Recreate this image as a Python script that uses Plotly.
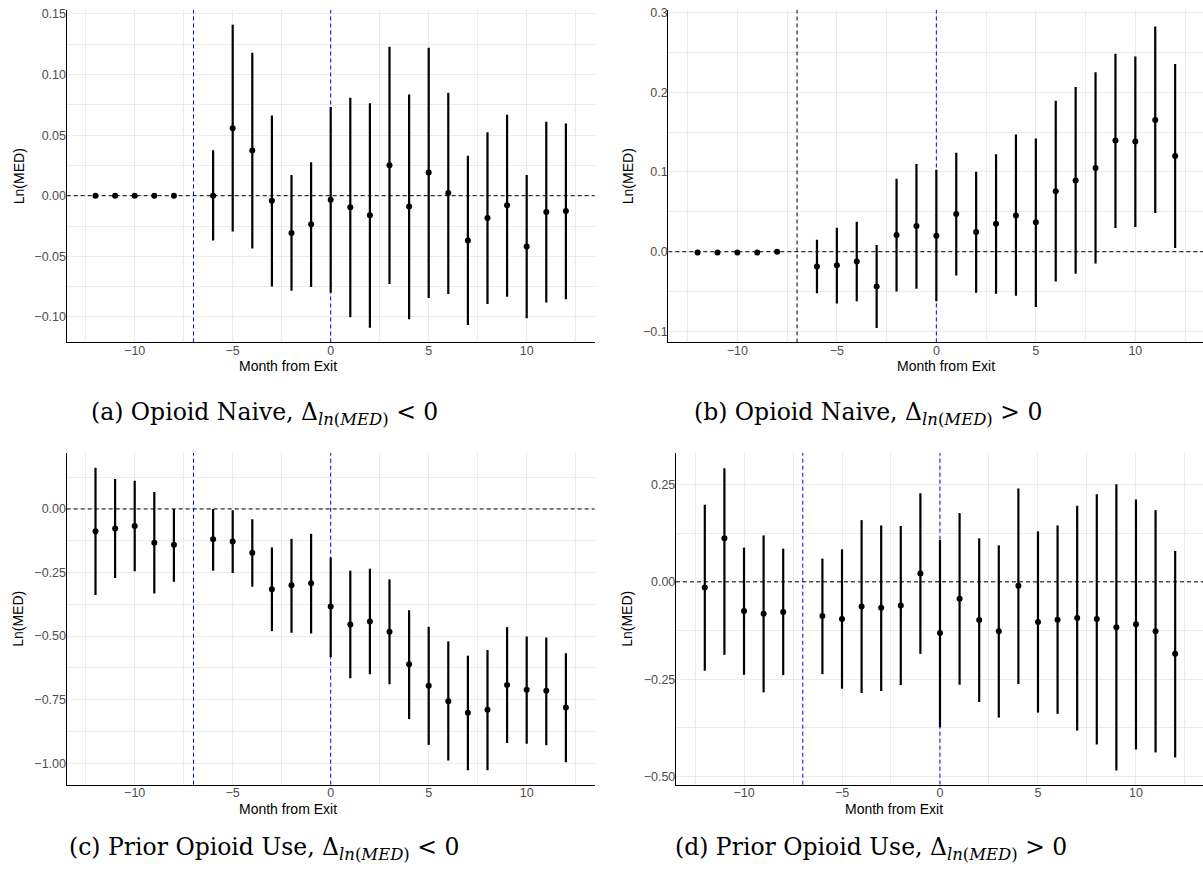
import plotly.graph_objects as go

# Event-time months (month -7 is the omitted reference period)
months = [-12, -11, -10, -9, -8, -6, -5, -4, -3, -2, -1, 0,
          1, 2, 3, 4, 5, 6, 7, 8, 9, 10, 11, 12]

# (a) Opioid naive, decrease in ln(MED)
a_est = [0.0, 0.0, 0.0, 0.0, 0.0, 0.0, 0.0556, 0.0373, -0.0041, -0.0307, -0.0236, -0.0033,
         -0.0096, -0.0162, 0.0252, -0.009, 0.0192, 0.0022, -0.037, -0.0184, -0.0079, -0.0419, -0.0134, -0.0126]
a_lo = [0.0, 0.0, 0.0, 0.0, 0.0, -0.037, -0.0296, -0.0436, -0.075, -0.0784, -0.0753, -0.080,
        -0.1003, -0.109, -0.0729, -0.1019, -0.0844, -0.0811, -0.1068, -0.0893, -0.0833, -0.1011, -0.0882, -0.0855]
a_hi = [0.0, 0.0, 0.0, 0.0, 0.0, 0.0375, 0.141, 0.118, 0.0663, 0.017, 0.0277, 0.0732,
        0.0808, 0.0764, 0.123, 0.0836, 0.1222, 0.0849, 0.0329, 0.0523, 0.0668, 0.017, 0.0611, 0.0597]

# (b) Opioid naive, increase in ln(MED)
b_est = [-0.001, -0.001, -0.001, -0.001, 0.0, -0.0186, -0.017, -0.0124, -0.0435, 0.0211, 0.0323, 0.0199,
         0.0472, 0.0248, 0.0352, 0.0455, 0.0369, 0.0758, 0.0894, 0.1048, 0.1395, 0.1383, 0.1652, 0.1201]
b_lo = [-0.001, -0.001, -0.001, -0.001, 0.0, -0.0522, -0.065, -0.0621, -0.0957, -0.0497, -0.0464, -0.0621,
        -0.0298, -0.0513, -0.0526, -0.0551, -0.0692, -0.0373, -0.0277, -0.0149, 0.0298, 0.0311, 0.0484, 0.0046]
b_hi = [-0.001, -0.001, -0.001, -0.001, 0.0, 0.0149, 0.0302, 0.0377, 0.0083, 0.0915, 0.110, 0.1027,
        0.1242, 0.1002, 0.1222, 0.147, 0.142, 0.1892, 0.2066, 0.2248, 0.248, 0.2447, 0.2824, 0.2352]

# (c) Prior opioid use, decrease in ln(MED)
c_est = [-0.0875, -0.077, -0.0666, -0.1332, -0.141, -0.1188, -0.128, -0.1723, -0.316, -0.3003, -0.2924, -0.3838,
         -0.4543, -0.4426, -0.483, -0.611, -0.6958, -0.7559, -0.8016, -0.7898, -0.6919, -0.7115, -0.7154, -0.7807]
c_lo = [-0.338, -0.2715, -0.2454, -0.3329, -0.2859, -0.2428, -0.252, -0.3055, -0.4804, -0.487, -0.4896, -0.5822,
        -0.6658, -0.6501, -0.6893, -0.8264, -0.9282, -0.9896, -1.0274, -1.0274, -0.9204, -0.923, -0.9295, -0.9961]
c_hi = [0.1619, 0.1175, 0.111, 0.0666, 0.0, 0.0, -0.0052, -0.0405, -0.1514, -0.1175, -0.0979, -0.1906,
        -0.2428, -0.235, -0.2768, -0.3982, -0.4634, -0.5209, -0.577, -0.5548, -0.4648, -0.5013, -0.5052, -0.5679]

# (d) Prior opioid use, increase in ln(MED)
d_est = [-0.0145, 0.1117, -0.075, -0.0818, -0.0776, -0.0878, -0.0955, -0.0631, -0.0665, -0.0605, 0.0213, -0.1313,
         -0.0435, -0.098, -0.127, -0.0102, -0.1031, -0.0972, -0.0929, -0.0955, -0.1168, -0.1091, -0.127, -0.185]
d_lo = [-0.2284, -0.1875, -0.2387, -0.2838, -0.2395, -0.237, -0.2745, -0.2855, -0.2804, -0.2651, -0.185, -0.3734,
        -0.2642, -0.3086, -0.3486, -0.2625, -0.3358, -0.3392, -0.3819, -0.4177, -0.4842, -0.4305, -0.4381, -0.4509]
d_hi = [0.1978, 0.2915, 0.0878, 0.1193, 0.0852, 0.0597, 0.0835, 0.1585, 0.1449, 0.1432, 0.2276, 0.1074,
        0.1765, 0.1117, 0.0938, 0.2395, 0.1296, 0.1449, 0.1952, 0.225, 0.2506, 0.2114, 0.1841, 0.0793]

captions = [
    "(a) Opioid Naive, Δ<sub><i>ln</i>(<i>MED</i>)</sub> &lt; 0",
    "(b) Opioid Naive, Δ<sub><i>ln</i>(<i>MED</i>)</sub> &gt; 0",
    "(c) Prior Opioid Use, Δ<sub><i>ln</i>(<i>MED</i>)</sub> &lt; 0",
    "(d) Prior Opioid Use, Δ<sub><i>ln</i>(<i>MED</i>)</sub> &gt; 0",
]

W, H = 1203, 875
BLUE, BLACK = "#0000FF", "#000000"

panels = [
    dict(est=a_est, lo=a_lo, hi=a_hi, xpx=(66.7, 594.7), ypx=(6, 340),
         xr=[-13.47, 13.47], yr=[-0.1211, 0.1533], dtick=0.05, fmt=".2f",
         pre_color=BLUE, ytitle_x=19, xtitle_x=288, xtitle_y=364, cap=(264, 411)),
    dict(est=b_est, lo=b_lo, hi=b_hi, xpx=(668.3, 1203), ypx=(6, 340),
         xr=[-13.47, 13.40], yr=[-0.1137, 0.303], dtick=0.1, fmt=".1f",
         pre_color=BLACK, ytitle_x=628, xtitle_x=946, xtitle_y=364, cap=(868, 411)),
    dict(est=c_est, lo=c_lo, hi=c_hi, xpx=(66.7, 594.7), ypx=(451, 784.3),
         xr=[-13.47, 13.47], yr=[-1.0846, 0.2204], dtick=0.25, fmt=".2f",
         pre_color=BLUE, ytitle_x=18, xtitle_x=288, xtitle_y=809, cap=(264, 848)),
    dict(est=d_est, lo=d_lo, hi=d_hi, xpx=(676, 1203), ypx=(451, 784.3),
         xr=[-13.47, 13.42], yr=[-0.521, 0.331], dtick=0.25, fmt=".2f",
         pre_color=BLUE, ytitle_x=627, xtitle_x=894, xtitle_y=809, cap=(871, 848)),
]

fig = go.Figure()
annotations = []
shapes = []
layout = {}

sans = "Liberation Sans, Arial, sans-serif"
tickfont = dict(family=sans, size=12.5, color="#4D4D4D")
grid = "#EBEBEB"
dash = "4px,3px"

for i, p in enumerate(panels, start=1):
    sfx = "" if i == 1 else str(i)
    xa, ya = "x" + sfx, "y" + sfx

    # zero-effect line and exit-month line, kept under the estimates
    fig.add_trace(go.Scatter(x=p["xr"], y=[0, 0], mode="lines", xaxis=xa, yaxis=ya,
                             line=dict(color=BLACK, width=1, dash=dash),
                             showlegend=False, hoverinfo="skip"))
    fig.add_trace(go.Scatter(x=[0, 0], y=p["yr"], mode="lines", xaxis=xa, yaxis=ya,
                             line=dict(color=BLUE, width=1, dash=dash),
                             showlegend=False, hoverinfo="skip"))
    # start of the event window (month -7)
    shapes.append(dict(type="line", xref=xa, yref=ya + " domain", x0=-7, x1=-7, y0=0, y1=1,
                       line=dict(color=p["pre_color"], width=1, dash=dash), layer="above"))

    up = [h - e for h, e in zip(p["hi"], p["est"])]
    dn = [e - l for e, l in zip(p["est"], p["lo"])]
    fig.add_trace(go.Scatter(
        x=months, y=p["est"], mode="markers", xaxis=xa, yaxis=ya,
        marker=dict(color=BLACK, size=6),
        error_y=dict(type="data", symmetric=False, array=up, arrayminus=dn,
                     color=BLACK, thickness=2.2, width=0),
        showlegend=False, hoverinfo="x+y",
    ))

    layout["xaxis" + sfx] = dict(
        domain=[p["xpx"][0] / W, min(p["xpx"][1] / W, 1.0)], anchor=ya,
        range=p["xr"], dtick=5, tick0=0, showgrid=True, gridcolor=grid, gridwidth=1.2,
        minor=dict(dtick=2.5, tick0=0, showgrid=True, gridcolor=grid, gridwidth=0.6),
        zeroline=False, showline=True, linecolor="black", linewidth=1.4,
        ticks="", ticklabelstandoff=-4, tickfont=tickfont, fixedrange=True,
    )
    layout["yaxis" + sfx] = dict(
        domain=[1 - p["ypx"][1] / H, 1 - p["ypx"][0] / H], anchor=xa,
        range=p["yr"], dtick=p["dtick"], tick0=0, tickformat=p["fmt"],
        showgrid=True, gridcolor=grid, gridwidth=1.2,
        minor=dict(dtick=p["dtick"] / 2, tick0=0, showgrid=True, gridcolor=grid, gridwidth=0.6),
        zeroline=False, showline=True, linecolor="black", linewidth=1.4,
        ticks="", ticklabelstandoff=-3, tickfont=tickfont, fixedrange=True,
    )

    ymid = (p["ypx"][0] + p["ypx"][1]) / 2
    annotations.append(dict(text="Ln(MED)", xref="paper", yref="paper",
                            x=p["ytitle_x"] / W, y=1 - ymid / H, textangle=-90,
                            showarrow=False, xanchor="center", yanchor="middle",
                            font=dict(family=sans, size=14, color="black")))
    annotations.append(dict(text="Month from Exit", xref="paper", yref="paper",
                            x=p["xtitle_x"] / W, y=1 - p["xtitle_y"] / H,
                            showarrow=False, xanchor="center", yanchor="middle",
                            font=dict(family=sans, size=14, color="black")))
    annotations.append(dict(text=captions[i - 1], xref="paper", yref="paper",
                            x=p["cap"][0] / W, y=1 - p["cap"][1] / H,
                            showarrow=False, xanchor="center", yanchor="middle",
                            font=dict(family="DejaVu Serif, serif", size=23.5, color="black")))

fig.update_layout(
    width=W, height=H, margin=dict(l=0, r=0, t=0, b=0),
    paper_bgcolor="white", plot_bgcolor="white",
    shapes=shapes, annotations=annotations, **layout,
)

fig.write_html("out.html", config={"displayModeBar": False})
